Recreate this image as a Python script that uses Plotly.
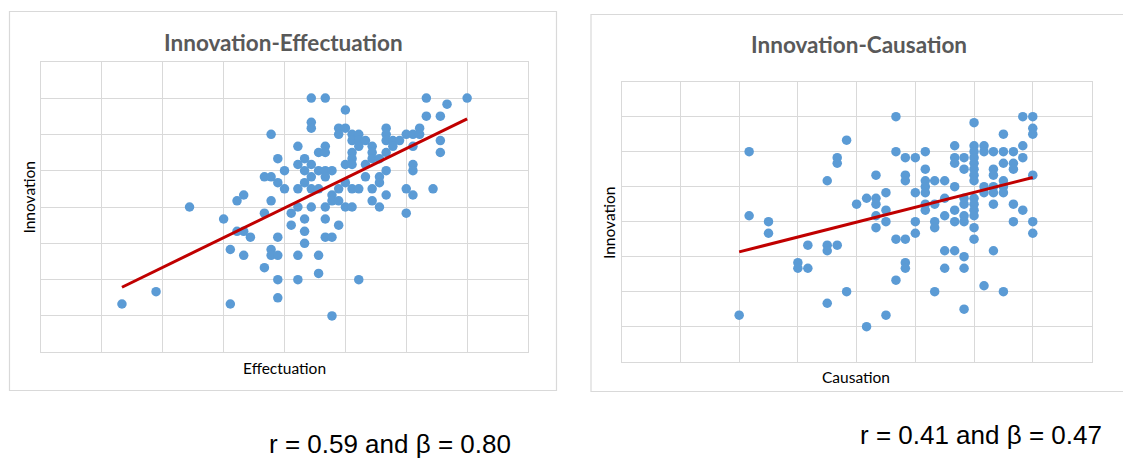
import numpy as np
import plotly.graph_objects as go

# ---------------- data (grid units) ----------------
# Innovation-Effectuation: rows keyed by innovation value -> effectuation values
eff_rows = {
    7.0: [4.44, 4.67, 6.33, 7.0],
    6.83: [6.67],
    6.67: [5.0],
    6.5: [6.33, 6.56],
    6.33: [4.44],
    6.17: [4.44, 4.89, 5.0, 5.67, 6.22],
    6.0: [3.78, 4.89, 5.11, 5.22, 5.67, 6.0, 6.11, 6.22],
    5.83: [5.11, 5.22, 5.33, 5.67, 5.78, 5.89, 6.56],
    5.67: [4.22, 4.67, 5.22, 5.44, 5.78, 6.11],
    5.5: [4.56, 4.67, 5.11, 5.44, 5.67, 6.56],
    5.33: [3.89, 4.33, 5.11, 5.44, 5.56],
    5.17: [4.22, 4.44, 5.0, 5.11, 5.33, 6.11],
    5.0: [4.0, 4.33, 4.56, 4.67, 4.78, 5.67, 6.11],
    4.83: [3.67, 3.78, 4.44, 4.67, 5.33, 5.56],
    4.67: [3.89, 4.33, 5.0, 5.56],
    4.5: [4.0, 4.22, 4.44, 4.56, 4.89, 5.11, 5.22, 5.44, 6.0, 6.44],
    4.33: [3.33, 4.78, 5.67, 6.11],
    4.17: [3.22, 3.78, 4.78, 4.89, 5.44],
    4.0: [2.44, 4.22, 4.44, 4.67, 5.0, 5.11, 5.56],
    3.83: [3.67, 4.11, 6.0],
    3.67: [3.0, 4.33, 4.67],
    3.5: [4.11, 4.89],
    3.33: [3.22, 3.33, 4.33],
    3.17: [3.44, 3.89, 4.67, 4.78],
    3.0: [4.33],
    2.83: [3.11, 3.78],
    2.67: [3.33, 3.78, 3.89, 4.22, 4.56],
    2.33: [3.67],
    2.17: [4.56],
    2.0: [3.89, 4.22, 5.22],
    1.67: [1.89],
    1.5: [3.89],
    1.33: [1.33, 3.11],
    1.0: [4.78],
}
effectuation = [x for y, xs in eff_rows.items() for x in xs]
innovation_e = [y for y, xs in eff_rows.items() for x in xs]

# Innovation-Causation: columns keyed by causation value -> innovation values
cau_cols = {
    2.0: [1.33],
    2.17: [6.0, 4.17],
    2.5: [4.0, 3.67],
    3.0: [2.83, 2.67],
    3.17: [3.33, 2.67],
    3.5: [5.17, 3.33, 3.17, 1.67],
    3.67: [5.83, 5.67, 3.33],
    3.83: [6.33, 2.0],
    4.0: [4.5],
    4.17: [4.67, 1.0],
    4.33: [5.33, 4.67, 4.5, 4.17, 3.83],
    4.5: [4.83, 4.33, 4.0, 1.33],
    4.67: [7.0, 6.0, 3.5, 2.33],
    4.83: [5.83, 5.33, 5.17, 3.5, 2.83, 2.67],
    5.0: [5.83, 4.83, 4.0, 3.67],
    5.17: [6.0, 5.5, 5.17, 5.0, 4.83, 4.5, 4.33],
    5.33: [5.17, 4.5, 4.0, 3.83, 2.0],
    5.5: [5.17, 4.67, 4.17, 3.17, 2.67],
    5.67: [6.17, 5.83, 5.67, 5.0, 4.33, 4.0, 3.17],
    5.83: [5.83, 5.5, 4.67, 4.5, 4.17, 4.0, 3.0, 2.67, 1.5],
    6.0: [6.83, 6.17, 6.0, 5.83, 5.67, 5.5, 5.33, 5.17, 4.67, 4.5, 4.33, 4.17, 3.83, 3.5],
    6.17: [6.17, 6.0, 5.0, 4.83, 2.17],
    6.33: [6.0, 5.5, 5.33, 5.0, 4.83, 4.5, 3.17],
    6.5: [6.5, 6.0, 5.67, 5.17, 5.0, 4.83, 2.0],
    6.67: [6.0, 5.67, 5.5, 4.5, 4.0],
    6.83: [7.0, 6.17, 5.83, 4.33],
    7.0: [7.0, 6.67, 6.5, 5.33, 4.0, 3.67],
}
causation = [x for x, ys in cau_cols.items() for y in ys]
innovation_c = [y for x, ys in cau_cols.items() for y in ys]

titles = ["Innovation-Effectuation", "Innovation-Causation"]
x_titles = ["Effectuation", "Causation"]
y_title = "Innovation"
stats_text = ["r = 0.59 and β = 0.80", "r = 0.41 and β = 0.47"]

# ---------------- styling ----------------
W, H = 1123, 459
BLUE = "#5B9BD5"
RED = "#C00000"
GRID = "#D9D9D9"

def px_x(v):
    return v / W

def px_y(v):
    return 1 - v / H

fig = go.Figure()

panels = [
    dict(x=effectuation, y=innovation_e, xa="x", ya="y"),
    dict(x=causation, y=innovation_c, xa="x2", ya="y2"),
]

for p in panels:
    xs = np.array(p["x"]); ys = np.array(p["y"])
    fig.add_trace(go.Scatter(x=xs, y=ys, mode="markers", xaxis=p["xa"], yaxis=p["ya"],
                             marker=dict(color=BLUE, size=9.5, line=dict(width=0)),
                             showlegend=False, hoverinfo="skip"))
    k, b = np.polyfit(xs, ys, 1)
    lx = np.array([xs.min(), xs.max()])
    fig.add_trace(go.Scatter(x=lx, y=k * lx + b, mode="lines", xaxis=p["xa"], yaxis=p["ya"],
                             line=dict(color=RED, width=3), showlegend=False, hoverinfo="skip"))

axis_common = dict(range=[0, 8], dtick=1, tick0=0, showgrid=True, gridcolor=GRID, gridwidth=1,
                   zeroline=False, showticklabels=False, ticks="", showline=True, mirror=True,
                   linecolor=GRID, linewidth=1, fixedrange=True)

fig.update_layout(
    width=W, height=H, margin=dict(l=0, r=0, t=0, b=0),
    paper_bgcolor="white", plot_bgcolor="white",
    xaxis=dict(domain=[px_x(41), px_x(528)], anchor="y", **axis_common),
    yaxis=dict(domain=[px_y(352.3), px_y(61.7)], anchor="x", **axis_common),
    xaxis2=dict(domain=[px_x(621.7), px_x(1091.5)], anchor="y2", **axis_common),
    yaxis2=dict(domain=[px_y(361.7), px_y(81.7)], anchor="x2", **axis_common),
)

# outer chart boxes
fig.add_shape(type="rect", xref="paper", yref="paper",
              x0=px_x(9.5), x1=px_x(556.5), y0=px_y(390.5), y1=px_y(11.5),
              line=dict(color=GRID, width=1.2), fillcolor="rgba(0,0,0,0)", layer="below")
fig.add_shape(type="rect", xref="paper", yref="paper",
              x0=px_x(591), x1=px_x(1140), y0=px_y(391.5), y1=px_y(14.5),
              line=dict(color=GRID, width=1.2), fillcolor="rgba(0,0,0,0)", layer="below")

ann = []
title_pos = [(283, 42.5), (859, 45)]
xt_pos = [(284, 367.5), (856, 377)]
yt_pos = [(28.5, 197), (609, 223)]
st_pos = [(390, 444), (981, 435)]
for i in range(2):
    ann.append(dict(text=f"<b>{titles[i]}</b>", x=px_x(title_pos[i][0]), y=px_y(title_pos[i][1]),
                    xref="paper", yref="paper", showarrow=False, xanchor="center", yanchor="middle",
                    font=dict(family="Lato", size=22.5, color="#595959")))
    ann.append(dict(text=x_titles[i], x=px_x(xt_pos[i][0]), y=px_y(xt_pos[i][1]),
                    xref="paper", yref="paper", showarrow=False, xanchor="center", yanchor="middle",
                    font=dict(family="Lato", size=15.5, color="#000000")))
    ann.append(dict(text=y_title, x=px_x(yt_pos[i][0]), y=px_y(yt_pos[i][1]), textangle=-90,
                    xref="paper", yref="paper", showarrow=False, xanchor="center", yanchor="middle",
                    font=dict(family="Lato", size=15.5, color="#000000")))
    ann.append(dict(text=stats_text[i], x=px_x(st_pos[i][0]), y=px_y(st_pos[i][1]),
                    xref="paper", yref="paper", showarrow=False, xanchor="center", yanchor="middle",
                    font=dict(family="Liberation Sans", size=26, color="#000000")))
fig.update_layout(annotations=ann)

fig.write_html("out.html")
